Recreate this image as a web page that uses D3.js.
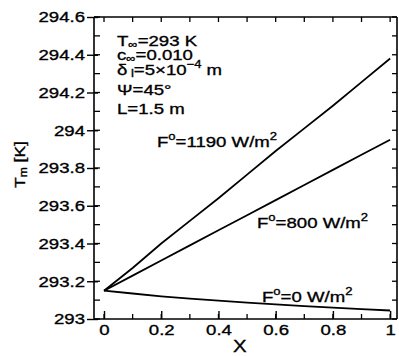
<!DOCTYPE html>
<html>
<head>
<meta charset="utf-8">
<script src="https://cdn.jsdelivr.net/npm/d3@7"></script>
<style>
  html, body { margin: 0; padding: 0; background: #fff; }
  svg text { font-family: "Liberation Sans", Arial, Helvetica, sans-serif; fill: #000;
             stroke: #000; stroke-width: 0.35px; }
</style>
</head>
<body>
<svg id="chart" width="399" height="356"></svg>
<script>
// Dimensionless position along the plate
const xPos = [0, 0.1, 0.2, 0.3, 0.4, 0.5, 0.6, 0.7, 0.8, 0.9, 1.0];
// Mean temperature T_m [K] for each irradiation level
const tmF1190 = [293.15, 293.27, 293.40, 293.52, 293.64, 293.765, 293.89, 294.01, 294.13, 294.255, 294.38];
const tmF800  = [293.15, 293.23, 293.31, 293.39, 293.47, 293.55, 293.63, 293.71, 293.79, 293.87, 293.95];
const tmF0    = [293.15, 293.135, 293.12, 293.108, 293.097, 293.087, 293.078, 293.068, 293.06, 293.052, 293.045];

const xTickLabels = [0, 0.2, 0.4, 0.6, 0.8, 1];
const yTickLabels = [293, 293.2, 293.4, 293.6, 293.8, 294, 294.2, 294.4, 294.6];

const svg = d3.select("#chart");
const L = 94, R = 397, T = 17, B = 319;
const SX = 1.2; // wide lettering

const x = d3.scaleLinear().domain([-0.035, 1.024]).range([L, R]);
const y = d3.scaleLinear().domain([293, 294.6]).range([B, T]);

const minorX = d3.range(0, 1.0001, 0.1);
const minorY = d3.range(293, 294.6001, 0.1);

// Bottom axis
const gx = svg.append("g").attr("transform", `translate(0,${B})`)
  .call(d3.axisBottom(x).tickValues(xTickLabels).tickSizeInner(-8).tickSizeOuter(0)
    .tickFormat(d => d3.format("")(d)));
gx.select(".domain").attr("stroke-width", 1.6).attr("d", `M${L},0H${R}`);
gx.selectAll(".tick line").attr("stroke-width", 1.4);
gx.selectAll(".tick text").attr("y", 5).attr("dy", "0.71em")
  .style("font-size", "15.5px").attr("transform", `scale(${SX},1)`);
svg.append("g").selectAll("line").data(minorX).join("line")
  .attr("x1", d => x(d)).attr("x2", d => x(d)).attr("y1", B).attr("y2", B - 5)
  .attr("stroke", "#000").attr("stroke-width", 1.3);

// Left axis
const gy = svg.append("g").attr("transform", `translate(${L},0)`)
  .call(d3.axisLeft(y).tickValues(yTickLabels).tickSizeInner(7).tickSizeOuter(0)
    .tickFormat(d => d3.format("")(+d.toFixed(1))));
gy.select(".domain").attr("stroke-width", 1.6).attr("d", `M0,${B}V${T}`);
gy.selectAll(".tick line").attr("stroke-width", 1.4).attr("x2", -7).attr("x1", 4);
gy.selectAll(".tick text").attr("x", -7.5)
  .style("font-size", "15.5px").attr("transform", `scale(${SX},1)`);
svg.append("g").selectAll("line").data(minorY).join("line")
  .attr("x1", L).attr("x2", L + 6).attr("y1", d => y(d)).attr("y2", d => y(d))
  .attr("stroke", "#000").attr("stroke-width", 1.3);

// Top frame with downward ticks
svg.append("line").attr("x1", L).attr("x2", R).attr("y1", T).attr("y2", T)
  .attr("stroke", "#000").attr("stroke-width", 1.6);
svg.append("g").selectAll("line").data(minorX).join("line")
  .attr("x1", d => x(d)).attr("x2", d => x(d)).attr("y1", T).attr("y2", T + 5)
  .attr("stroke", "#000").attr("stroke-width", 1.3);

// Right frame with inward ticks
svg.append("line").attr("x1", R).attr("x2", R).attr("y1", T).attr("y2", B)
  .attr("stroke", "#000").attr("stroke-width", 1.6);
svg.append("g").selectAll("line").data(minorY).join("line")
  .attr("x1", R).attr("x2", R - 5).attr("y1", d => y(d)).attr("y2", d => y(d))
  .attr("stroke", "#000").attr("stroke-width", 1.3);

// Curves
const line = d3.line().x(d => x(d[0])).y(d => y(d[1]));
[tmF1190, tmF800, tmF0].forEach(series => {
  svg.append("path")
    .datum(xPos.map((v, i) => [v, series[i]]))
    .attr("d", line)
    .attr("fill", "none").attr("stroke", "#000").attr("stroke-width", 1.8);
});

// Rich text helper: parts are [string, "n" | "sup" | "sub"]
function richText(px, py, parts, size, rotate) {
  const tf = rotate ? `translate(${px},${py}) rotate(-90) scale(${SX},1)`
                    : `translate(${px},${py}) scale(${SX},1)`;
  const t = svg.append("text").attr("transform", tf).style("font-size", size + "px");
  let shift = 0;
  parts.forEach(([s, kind]) => {
    let target = kind === "sup" ? -0.42 * size : kind === "sub" ? 0.12 * size : 0;
    const span = t.append("tspan").text(s).attr("dy", target - shift);
    if (kind !== "n") span.style("font-size", (size * 0.7) + "px");
    shift = target;
  });
  return t;
}

// Parameter block
const ps = 15.5;
richText(117, 46, [["T", "n"], ["\u221E", "sub"], ["=293 K", "n"]], ps);
richText(117, 60, [["c", "n"], ["\u221E", "sub"], ["=0.010", "n"]], ps);
richText(117, 75, [["\u03B4", "n"], [" l", "sub"], ["=5\u00D710", "n"], ["\u22124", "sup"], [" m", "n"]], ps);
richText(117, 95, [["\u03A8", "n"], ["=45\u00B0", "n"]], ps);
richText(117, 114, [["L=1.5 m", "n"]], ps);

// Curve labels
richText(157, 147, [["F", "n"], ["o", "sup"], ["=1190 W/m", "n"], ["2", "sup"]], 15.5);
richText(257, 228, [["F", "n"], ["o", "sup"], ["=800 W/m", "n"], ["2", "sup"]], 15.5);
richText(262, 302, [["F", "n"], ["o", "sup"], ["=0 W/m", "n"], ["2", "sup"]], 15.5);

// Axis titles
richText(25, 188, [["T", "n"], ["m", "sub"], [" [K]", "n"]], 14.5, true);
richText(233, 352, [["X", "n"]], 17);
</script>
</body>
</html>
